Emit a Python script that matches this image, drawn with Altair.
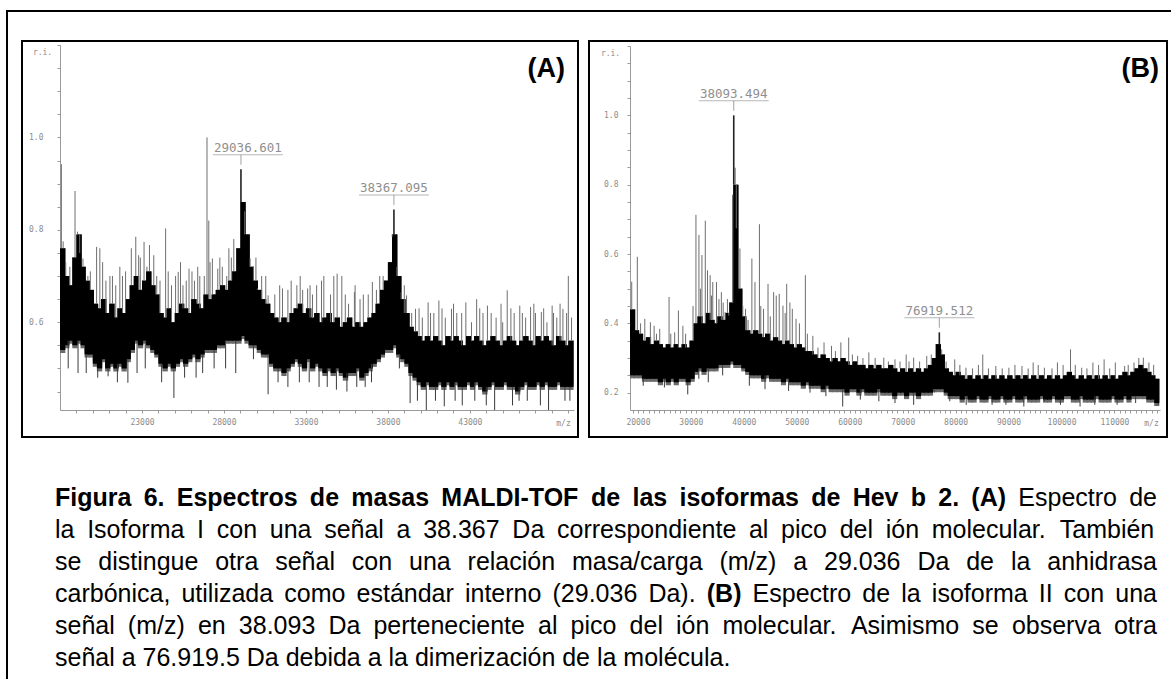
import altair as alt
import pandas as pd

W, H = 1171, 679
SANS = "Liberation Sans, Arial, Helvetica, sans-serif"
MONO = "DejaVu Sans Mono, Liberation Mono, monospace"
AXC = "#9a9a9a"
LBLC = "#8c8c8c"

# ------------------------------------------------------------------ data
# Panel A : spectrum band (bins of 250 m/z starting at 18000)
A_START, A_STEP = 18000, 250
A_HI = [.76, .70, .68, .74, .79, .72, .69, .67, .64, .63,
        .65, .62, .64, .61, .63, .62, .65, .68, .70, .67,
        .69, .71, .68, .66, .62, .61, .63, .60, .62, .64,
        .63, .62, .65, .64, .63, .66, .65, .66, .67, .68,
        .67, .69, .71, .76, .86, .79, .72, .69, .67, .65,
        .64, .62, .61, .60, .61, .60, .62, .63, .64, .62,
        .63, .61, .62, .60, .61, .62, .60, .61, .59, .60,
        .61, .59, .60, .59, .60, .61, .62, .64, .67, .69,
        .73, .79, .70, .65, .62, .59, .58, .57, .56, .57,
        .56, .57, .56, .55, .57, .56, .57, .56, .55, .57,
        .56, .57, .56, .55, .56, .57, .56, .55, .56, .57,
        .56, .55, .56, .57, .56, .55, .57, .56, .57, .56,
        .55, .57, .56, .55, .56]
A_LO = [.54, .55, .56, .55, .56, .55, .53, .53, .51, .50,
        .52, .50, .51, .50, .51, .50, .52, .54, .56, .55,
        .56, .55, .54, .53, .51, .50, .51, .50, .51, .52,
        .51, .52, .53, .52, .53, .54, .54, .54, .55, .55,
        .56, .56, .56, .56, .57, .56, .55, .55, .54, .53,
        .53, .51, .50, .50, .49, .50, .51, .52, .51, .50,
        .52, .50, .51, .50, .49, .50, .49, .50, .49, .48,
        .49, .49, .50, .48, .49, .50, .51, .52, .53, .54,
        .54, .55, .53, .52, .51, .49, .48, .47, .46, .47,
        .46, .46, .47, .46, .47, .46, .47, .46, .46, .47,
        .46, .47, .46, .45, .46, .47, .46, .46, .47, .46,
        .46, .45, .46, .47, .46, .46, .47, .46, .47, .46,
        .46, .47, .46, .46, .46]
A_SPK_MZ = [18083, 18193, 18916, 19070, 19400, 20232, 20430, 21044, 21811, 22622,
            22798, 23127, 23456, 23719, 24443, 25211, 25869, 26526, 26965, 27075,
            27294, 27623, 28171, 29267, 29596, 30035, 30693, 31570, 32447, 33105,
            33653, 34092, 34903, 35188, 35956, 37052, 37710, 38259, 38807, 39136,
            39684, 40452, 41109, 41877, 42754, 43412, 44070, 45276, 46043, 46701,
            47359, 48017, 48675, 49004,
            18600, 19700, 20800, 21400, 22000, 24100, 24800, 25500, 26200, 27900,
            28450, 29800, 30300, 31100, 31900, 32800, 33400, 34500, 35600, 36300,
            36800, 37300, 39450, 40100, 40800, 41500, 42200, 43100, 43800, 44600,
            45000, 45700, 46400, 47000, 47700, 48300, 49200,
            18350, 19200, 19850, 20600, 21200, 21650, 22350, 22900, 23300, 23900,
            24600, 25050, 25350, 25700, 26050, 26400, 26800, 27150, 27750, 28300,
            28600, 29950, 30550, 31400, 32100, 32650, 33250, 33950, 34700, 35400,
            36000, 36500, 37500, 38550, 39000, 39900, 40600, 41300, 42000, 42500,
            43600, 44300, 44900, 45500, 46200, 46900, 47500, 48100, 48500, 48900]
A_SPK_TOP = [.942, .775, .884, .796, .738, .763, .76, .70, .70, .785,
             .745, .774, .767, .745, .803, .709, .716, .70, 1.0, .82,
             .738, .716, .70, .84, .738, .673, .658, .673, .68, .673,
             .68, .70, .705, .70, .665, .687, .70, .785, .665, .658,
             .629, .643, .647, .629, .643, .65, .636, .669, .636, .633,
             .622, .636, .629, .70,
             .72, .70, .69, .68, .71, .69, .68, .68, .69, .72,
             .74, .72, .70, .66, .67, .67, .66, .66, .64, .65,
             .66, .67, .62, .61, .62, .61, .62, .60, .62, .61,
             .60, .62, .61, .62, .60, .61, .61,
             .73, .75, .71, .73, .70, .72, .76, .74, .72, .70,
             .71, .70, .73, .69, .71, .72, .70, .73, .74, .76,
             .78, .74, .70, .68, .69, .70, .68, .69, .70, .66,
             .68, .66, .70, .72, .68, .63, .62, .63, .64, .62,
             .63, .62, .64, .63, .62, .64, .63, .62, .64, .62]
A_DN_MZ = [20934, 22140, 24947, 28719, 30693, 34859, 36614, 39355, 40342, 41438,
           42535, 44509, 47798,
           18500, 19600, 21500, 23200, 25600, 26700, 27400, 29800, 31300, 32600,
           33800, 35500, 37000, 38700, 40900, 43300, 45600, 46500, 48800,
           19100, 20300, 22700, 24200, 26300, 28100, 31900, 33200, 34300, 36100,
           39800, 42100, 44000, 46000, 47300, 49100]
A_DN_BOT = [.483, .469, .436, .49, .444, .454, .46, .425, .41, .418,
            .42, .41, .41,
            .50, .49, .47, .50, .48, .49, .50, .52, .47, .47,
            .46, .45, .47, .50, .43, .43, .42, .43, .43,
            .49, .48, .49, .47, .48, .50, .46, .47, .46, .46,
            .43, .43, .42, .43, .42, .43]
A_PEAK_MZ = [29036.601, 38367.095]
A_PEAK_TOP = [0.931, 0.844]
A_PEAK_LABEL = ["29036.601", "38367.095"]
A_LABEL_MZ = [29460, 38367]

# Panel B : spectrum band (bins of 750 m/z starting at 18500)
B_START, B_STEP = 18500, 750
B_HI = [.44, .38, .37, .35, .36, .34, .35, .34, .33, .34,
        .33, .34, .33, .34, .33, .35, .40, .42, .40, .43,
        .41, .40, .42, .41, .43, .46, .80, .50, .42, .38,
        .37, .38, .37, .36, .37, .35, .36, .35, .34, .35,
        .34, .33, .34, .33, .32, .32, .31, .30, .31, .30,
        .29, .30, .29, .30, .29, .28, .29, .28, .28, .27,
        .28, .27, .28, .27, .27, .28, .27, .26, .27, .26,
        .27, .26, .27, .26, .27, .28, .30, .34, .31, .27,
        .26, .25, .26, .25, .24, .25, .24, .25, .24, .25,
        .24, .25, .24, .25, .24, .25, .24, .25, .24, .25,
        .24, .25, .24, .25, .24, .25, .24, .25, .24, .25,
        .26, .25, .24, .25, .24, .25, .24, .25, .24, .25,
        .24, .25, .24, .25, .26, .25, .26, .27, .28, .27,
        .26, .25, .24]
B_LO = [.25, .25, .25, .24, .24, .24, .24, .23, .24, .23,
        .24, .23, .24, .24, .23, .24, .26, .27, .26, .27,
        .27, .27, .28, .28, .28, .29, .28, .28, .27, .26,
        .25, .25, .25, .24, .25, .24, .24, .24, .23, .24,
        .23, .23, .23, .22, .23, .22, .22, .22, .21, .22,
        .21, .21, .21, .21, .20, .21, .21, .20, .21, .20,
        .20, .20, .21, .20, .20, .20, .19, .20, .20, .19,
        .20, .20, .19, .20, .20, .20, .21, .21, .21, .20,
        .19, .19, .19, .18, .19, .18, .18, .19, .18, .18,
        .19, .18, .18, .19, .18, .18, .19, .18, .18, .19,
        .18, .18, .18, .19, .18, .18, .19, .18, .18, .19,
        .19, .18, .18, .19, .18, .18, .18, .19, .18, .18,
        .18, .19, .18, .18, .19, .18, .19, .19, .19, .19,
        .18, .18, .17]
B_SPK_MZ = [18826, 19883, 21294, 22352, 23057, 24115, 25878, 26936, 27642, 28488,
            30956, 31520, 32085, 32720, 33143, 33637, 34131, 34836, 35753, 36458,
            37163, 37868, 38362, 38574, 39264, 40322, 41521, 42100, 42946, 43722,
            44569, 45627, 46121, 46685, 47390, 48096, 49154, 49859, 51622, 53032,
            55148, 56559, 58322, 59803, 61496, 63612, 66433, 68549, 70665, 72076,
            74544, 77365, 79834, 81950, 85124, 87592, 90060, 92529, 94645, 96761,
            99229, 101698, 103814, 105930, 108046, 110162, 111925, 113689, 115452, 116510,
            20500, 23500, 26200, 29000, 30400, 31800, 33900, 35300, 36100, 36900,
            39800, 40800, 43200, 45000, 47800, 48700, 50500, 52000, 54000, 57300,
            60500, 62500, 64800, 67300, 69500, 71200, 73200, 75400, 78200, 80800,
            83200, 84300, 86200, 88800, 91200, 93700, 95600, 98200, 100300, 102600,
            104800, 107000, 109100, 112600, 114600, 117400]
B_SPK_TOP = [.52, .592, .413, .403, .393, .384, .476, .374, .437, .393,
             .713, .655, .597, .696, .553, .539, .519, .519, .49, .432,
             .422, .771, .849, .674, .616, .442, .587, .519, .686, .442,
             .514, .49, .48, .485, .451, .514, .442, .413, .539, .364,
             .345, .335, .345, .359, .306, .316, .301, .296, .31, .301,
             .306, .325, .296, .272, .31, .277, .272, .277, .287, .272,
             .287, .325, .272, .287, .296, .287, .277, .287, .301, .287,
             .40, .37, .37, .37, .45, .50, .48, .47, .46, .47,
             .45, .41, .45, .42, .43, .46, .40, .37, .33, .32,
             .31, .30, .30, .29, .29, .29, .29, .31, .29, .28,
             .27, .28, .27, .27, .28, .27, .28, .27, .28, .28,
             .27, .28, .27, .28, .30, .28]
B_DN_MZ = [29405, 33284, 41040, 48449, 58675, 68549, 72076, 75955, 86887, 92882,
           96761, 106283, 118274,
           21000, 25000, 31500, 36000, 44000, 52500, 55500, 62000, 65500, 78900,
           82000, 89500, 99800, 103500, 110500, 114000]
B_DN_BOT = [.195, .23, .22, .205, .16, .17, .165, .20, .165, .16,
            .175, .165, .165,
            .22, .215, .24, .25, .21, .20, .19, .18, .175, .175,
            .165, .165, .165, .16, .165, .17]
B_PEAK_MZ = [38093.494, 76919.512]
B_PEAK_TOP = [1.0, 0.374]
B_PEAK_LABEL = ["38093.494", "76919.512"]
B_LABEL_MZ = [38093.494, 76919.512]

# Caption (segments: text, bold)
CAPTION = [
    [("Figura 6. Espectros de masas MALDI-TOF de las isoformas de Hev b 2. (A)", True),
     ("Espectro de", False)],
    [("la Isoforma I con una señal a 38.367 Da correspondiente al pico del ión molecular. También", False)],
    [("se distingue otra señal con una relación masa/carga (m/z) a 29.036 Da de la anhidrasa", False)],
    [("carbónica, utilizada como estándar interno (29.036 Da).", False), ("(B)", True),
     ("Espectro de la isoforma II con una", False)],
    [("señal (m/z) en 38.093 Da perteneciente al pico del ión molecular. Asimismo se observa otra", False)],
    [("señal a 76.919.5 Da debida a la dimerización de la molécula.", False)],
]

# ------------------------------------------------------------------ layout constants
CAP_FS = 25
CAP_L, CAP_R = 55, 1157
CAP_BASE = [506, 538, 570, 602, 634, 666]


def arial_widths():
    reg, bold = {}, {}
    for chars, w in [("abdeghnopqu", 556), ("ckvsxyz", 500), ("ft", 278), ("ijl", 222),
                     ("m", 833), ("r", 333), ("w", 722),
                     ("ABEKPSVXY", 667), ("CDHNRU", 722), ("FTZ", 611), ("GOQ", 778),
                     ("I", 278), ("J", 500), ("L", 556), ("M", 833), ("W", 944),
                     ("0123456789", 556), (" .,/:", 278), ("()-", 333),
                     ("áéóúñ", 556), ("í", 278)]:
        for c in chars:
            reg[c] = w
    for chars, w in [("aeckvsxy", 556), ("bdghnopqu", 611), ("z", 500), ("ft", 333),
                     ("ijl", 278), ("m", 889), ("r", 389), ("w", 778),
                     ("ABCDHKNRU", 722), ("EPSVXY", 667), ("FTZ", 611), ("GOQ", 778),
                     ("I", 278), ("J", 556), ("L", 611), ("M", 833), ("W", 944),
                     ("0123456789", 556), (" .,/", 278), ("()-:", 333),
                     ("áéó", 556), ("úñ", 611), ("í", 278)]:
        for c in chars:
            bold[c] = w
    return reg, bold


REG_W, BOLD_W = arial_widths()


def word_width(word, is_bold):
    table = BOLD_W if is_bold else REG_W
    return sum(table.get(c, 556) for c in word) * CAP_FS / 1000.0


rows = []
for li, line in enumerate(CAPTION):
    words = []
    for seg, b in line:
        for w_ in seg.split(" "):
            if w_:
                words.append((w_, b))
    widths = [word_width(w_, b) for w_, b in words]
    last = li == len(CAPTION) - 1
    gap = 0.278 * CAP_FS if last else (CAP_R - CAP_L - sum(widths)) / (len(words) - 1)
    x = CAP_L
    for (w_, b), wd in zip(words, widths):
        rows.append({"px": x, "py": CAP_BASE[li], "t": w_, "bold": b})
        x += wd + gap
caption_df = pd.DataFrame(rows)

frames_df = pd.DataFrame({"px": [7, 22, 589], "px2": [1200, 578, 1167],
                          "py": [11, 41, 41], "py2": [720, 437, 437]})
plabel_df = pd.DataFrame({"px": [565, 1159], "py": [77, 77], "t": ["(A)", "(B)"]})

PX = alt.X("px:Q", scale=alt.Scale(domain=[0, W], range=[0, W], zero=False, nice=False), axis=None)
PY = alt.Y("py:Q", scale=alt.Scale(domain=[0, H], range=[0, H], zero=False, nice=False), axis=None)

frames = alt.Chart(frames_df).mark_rect(fillOpacity=0, stroke="black", strokeWidth=2).encode(
    x=PX, x2="px2:Q", y=PY, y2="py2:Q")
plabels = alt.Chart(plabel_df).mark_text(align="right", baseline="alphabetic", font=SANS,
                                         fontSize=27, fontWeight="bold", color="black").encode(
    x=PX, y=PY, text="t:N")
cap_reg = alt.Chart(caption_df).transform_filter("!datum.bold").mark_text(
    align="left", baseline="alphabetic", font=SANS, fontSize=CAP_FS, color="black").encode(
    x=PX, y=PY, text="t:N")
cap_bold = alt.Chart(caption_df).transform_filter("datum.bold").mark_text(
    align="left", baseline="alphabetic", font=SANS, fontSize=CAP_FS, fontWeight="bold",
    color="black").encode(x=PX, y=PY, text="t:N")
deco = alt.layer(frames, plabels, cap_reg, cap_bold)


def idx(mz, start, step, n):
    return min(max(int((mz - start) // step), 0), n - 1)


def make_panel(start, step, hi, lo, spk_mz, spk_top, dn_mz, dn_bot, pk_mz, pk_top, pk_lab, lab_mz,
               xdom, xrng, ydom, yrng, xvals, xexpr, yvals, mz_title_x, ri_x, ri_y, ylab_pad):
    n = len(hi)
    band = pd.DataFrame({"mz": [start + i * step for i in range(n)],
                         "mz2": [start + (i + 1.3) * step for i in range(n)],
                         "v": lo, "v2": hi})
    ups = pd.DataFrame({"mz": spk_mz, "v": [hi[idx(m, start, step, n)] for m in spk_mz], "v2": spk_top})
    downs = pd.DataFrame({"mz": dn_mz, "v": dn_bot, "v2": [lo[idx(m, start, step, n)] for m in dn_mz]})
    pk = pd.DataFrame({"mz": pk_mz, "v": [hi[idx(m, start, step, n)] for m in pk_mz], "v2": pk_top})
    pk_top_df = pd.DataFrame({"mz": pk_mz, "v": pk_top})
    lab_df = pd.DataFrame({"mz": lab_mz, "v": pk_top, "label": pk_lab})

    xsc = alt.Scale(domain=xdom, range=xrng, zero=False, nice=False)
    ysc = alt.Scale(domain=ydom, range=yrng, zero=False, nice=False)
    xax = alt.Axis(orient="bottom", offset=yrng[0] - H, values=xvals, labelExpr=xexpr,
                   title="m/z", titleX=mz_title_x, titleY=13, titleAngle=0, titleAlign="center",
                   titleBaseline="middle", titleFont=MONO, titleFontSize=8, titleFontWeight="normal",
                   titleColor=LBLC, grid=False, domainColor=AXC, domainWidth=1, tickColor=AXC,
                   tickSize=3, tickWidth=1, labelFont=MONO, labelFontSize=8, labelColor=LBLC,
                   labelPadding=5, labelOverlap=False, labelFlush=False, labelAngle=0)
    yax = alt.Axis(orient="left", offset=-xrng[0], values=yvals,
                   labelExpr="(round(datum.value*100) % 20 == 0 && datum.value < 1.15) ? format(datum.value, '.1f') : ''",
                   title="r.i.", titleX=ri_x, titleY=ri_y, titleAngle=0, titleAlign="center",
                   titleBaseline="middle", titleFont=MONO, titleFontSize=8, titleFontWeight="normal",
                   titleColor=LBLC, grid=False, domainColor=AXC, domainWidth=1, tickColor=AXC,
                   tickSize=3, tickWidth=1, labelFont=MONO, labelFontSize=8, labelColor=LBLC,
                   labelPadding=ylab_pad, labelOverlap=False, labelFlush=False)
    X = alt.X("mz:Q", scale=xsc, axis=xax)
    Y = alt.Y("v:Q", scale=ysc, axis=yax)

    band_base = alt.Chart(band)
    l_fr1 = band_base.mark_rect(color="#8a8a8a", yOffset=-3).encode(x=X, x2="mz2:Q", y=Y, y2="v2:Q")
    l_fr2 = band_base.mark_rect(color="#6a6a6a", yOffset=3).encode(x=X, x2="mz2:Q", y=Y, y2="v2:Q")
    l_band = band_base.mark_rect(color="black").encode(x=X, x2="mz2:Q", y=Y, y2="v2:Q")
    l_up = alt.Chart(ups).mark_rule(color="#6e6e6e", strokeWidth=1).encode(x=X, y=Y, y2="v2:Q")
    l_dn = alt.Chart(downs).mark_rule(color="#3a3a3a", strokeWidth=1).encode(x=X, y=Y, y2="v2:Q")
    l_pk = alt.Chart(pk).mark_rule(color="#222222", strokeWidth=1.6).encode(x=X, y=Y, y2="v2:Q")
    l_txt = alt.Chart(lab_df).mark_text(font=MONO, fontSize=12.5, color="#8f8f8f", dy=-17,
                                        align="center", baseline="alphabetic").encode(
        x=X, y=Y, text="label:N")
    l_ul = alt.Chart(lab_df).mark_tick(orient="horizontal", size=70, thickness=1, color="#999999",
                                       yOffset=-14.5).encode(x=X, y=Y)
    l_cn = alt.Chart(pk_top_df).mark_tick(orient="vertical", size=10, thickness=1, color="#777777",
                                          yOffset=-9.5, strokeDash=[2, 1.5]).encode(x=X, y=Y)
    return alt.layer(l_fr1, l_fr2, l_band, l_up, l_dn, l_pk, l_txt, l_ul, l_cn)


A_XTICKS = list(range(19000, 49001, 1000))
B_XTICKS = list(range(19000, 118001, 1000))
A_YTICKS = [round(0.45 + 0.05 * k, 2) for k in range(16)]
B_YTICKS = [round(0.20 + 0.05 * k, 2) for k in range(21)]

panelA = make_panel(A_START, A_STEP, A_HI, A_LO, A_SPK_MZ, A_SPK_TOP, A_DN_MZ, A_DN_BOT,
                    A_PEAK_MZ, A_PEAK_TOP, A_PEAK_LABEL, A_LABEL_MZ,
                    [18000, 49350], [60, 574], [0.41, 1.20], [410, 45],
                    A_XTICKS,
                    "((datum.value - 23000) % 5000 == 0 && datum.value > 20000 && datum.value < 46000) ? format(datum.value, 'd') : ''",
                    A_YTICKS, 563, -18, 52, 14)
panelB = make_panel(B_START, B_STEP, B_HI, B_LO, B_SPK_MZ, B_SPK_TOP, B_DN_MZ, B_DN_BOT,
                    B_PEAK_MZ, B_PEAK_TOP, B_PEAK_LABEL, B_LABEL_MZ,
                    [18500, 118600], [630, 1160], [0.15, 1.20], [410, 46],
                    B_XTICKS, "(datum.value % 10000 == 0) ? format(datum.value, 'd') : ''",
                    B_YTICKS, 1151, -20, 53, 9)

chart = alt.layer(deco, panelA, panelB).resolve_scale(
    x="independent", y="independent").resolve_axis(x="independent", y="independent").properties(
    width=W, height=H, autosize=alt.AutoSizeParams(type="none"), padding=0, background="white"
).configure_view(stroke="transparent")

chart.save("out.html", embed_options={"renderer": "svg", "actions": False})
